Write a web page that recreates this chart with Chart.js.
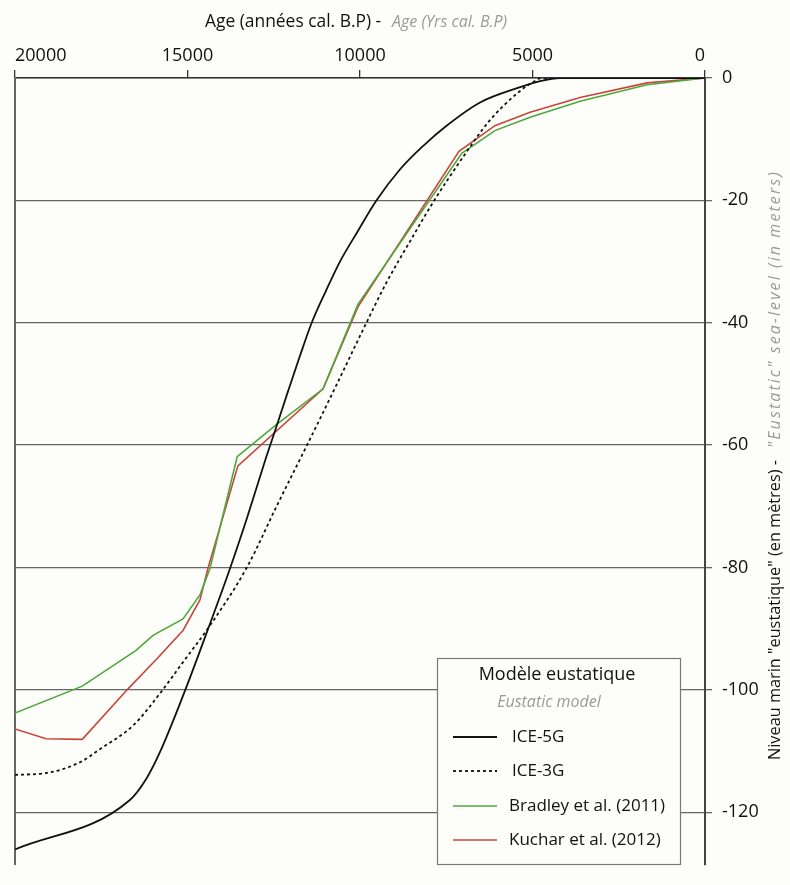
<!DOCTYPE html>
<html>
<head>
<meta charset="utf-8">
<script src="https://cdn.jsdelivr.net/npm/chart.js@4.4.1/dist/chart.umd.min.js"></script>
<style>
  html, body { margin: 0; padding: 0; background: #fdfdf9; }
  canvas { display: block; }
</style>
</head>
<body>
<canvas id="chart" width="790" height="885"></canvas>
<script>
// axes (ordre croissant : Chart.js aligne le premier/dernier label avec align 'inner')
const ageTicks = [0, 5000, 10000, 15000, 20000];
const levelTicks = [0, -20, -40, -60, -80, -100, -120];

// ICE-5G
const ice5gAge = [20000, 16670, 16180, 15800, 15070, 14440, 13770, 13280, 12720, 12400, 12080, 11740, 11400, 10980, 10580, 10060, 9520, 8850, 8150, 7490, 6520, 5360, 4780, 4200, 0];
const ice5gLevel = [-126.1, -118, -114.4, -110.2, -100.1, -90.6, -80.2, -72, -62, -56.6, -51.1, -45.4, -40, -34.7, -30, -25, -20, -15, -11, -7.8, -4, -1.5, -0.5, 0, 0];

// ICE-3G
const ice3gAge = [20000, 19100, 18100, 17540, 16570, 15800, 15120, 14350, 13280, 12400, 11500, 10650, 9900, 9230, 8550, 7880, 7000, 6250, 5400, 4900, 4750, 0];
const ice3gLevel = [-113.9, -113.6, -111.8, -109.7, -105.8, -100.6, -95.4, -89.5, -80, -69.8, -59.6, -49.8, -41, -33.4, -26.7, -20.3, -12.8, -7.0, -2.3, -0.4, 0, 0];

// Bradley et al. (2011)
const bradleyAge = [20000, 18050, 16500, 16000, 15130, 14640, 14350, 13560, 12460, 11070, 10060, 7050, 6090, 5070, 3620, 1680, 0];
const bradleyLevel = [-103.8, -99.4, -93.6, -91.1, -88.4, -84.5, -80.2, -61.9, -56.8, -50.8, -37.0, -12.3, -8.6, -6.4, -3.8, -1.1, 0];

// Kuchar et al. (2012)
const kucharAge = [20000, 19100, 18050, 16750, 15900, 15130, 14640, 14400, 13540, 11070, 10060, 7130, 6090, 5070, 3620, 1680, 0];
const kucharLevel = [-106.4, -108, -108.1, -100, -95, -90.3, -85.3, -80, -63.4, -50.8, -37.4, -12, -7.8, -5.6, -3.2, -0.8, 0];

const FONT = '"Open Sans", "Noto Sans", sans-serif';
const BG = '#fdfdf9';

const pts = (xs, ys) => xs.map((x, i) => ({ x: x, y: ys[i] }));

// taille de police pour qu'un texte occupe une longueur donnée
function fitFont(c, text, style, len) {
  c.font = style + '20px ' + FONT;
  const size = 20 * len / c.measureText(text).width;
  c.font = style + size.toFixed(1) + 'px ' + FONT;
}

const bgPlugin = {
  id: 'bg',
  beforeDraw(chart) {
    const c = chart.ctx;
    c.save();
    c.fillStyle = BG;
    c.fillRect(0, 0, chart.width, chart.height);
    c.restore();
  }
};

// titres bicolores + légende encadrée
const decoPlugin = {
  id: 'deco',
  afterDatasetsDraw(chart) {
    const c = chart.ctx;
    c.save();

    // titre du haut
    c.textBaseline = 'middle';
    c.textAlign = 'left';
    const t1 = 'Age (années cal. B.P) -';
    fitFont(c, t1, '', 176);
    c.fillStyle = '#111';
    c.fillText(t1, 205, 22);
    const t2 = 'Age (Yrs cal. B.P)';
    fitFont(c, t2, 'italic ', 115);
    c.fillStyle = '#9a9a9a';
    c.fillText(t2, 392, 22);

    // titre de droite (vertical)
    c.save();
    c.translate(775, 0);
    c.rotate(-Math.PI / 2);
    const r1 = 'Niveau marin "eustatique" (en mètres) -';
    fitFont(c, r1, '', 300);
    c.fillStyle = '#111';
    c.fillText(r1, -760, 0);
    // partie anglaise : petite italique, espacée pour garder la longueur
    const r2 = '"Eustatic" sea-level (in meters)';
    c.font = 'italic 16px ' + FONT;
    const rw2 = c.measureText(r2).width;
    if ('letterSpacing' in c) {
      c.letterSpacing = ((278 - rw2) / r2.length).toFixed(2) + 'px';
    }
    c.fillStyle = '#9a9a9a';
    c.fillText(r2, -448, 0);
    if ('letterSpacing' in c) c.letterSpacing = '0px';
    c.restore();

    // légende
    const bx = 437, by = 658, bw = 243, bh = 206;
    c.fillStyle = BG;
    c.fillRect(bx, by, bw, bh);
    c.strokeStyle = '#777';
    c.lineWidth = 1.2;
    c.strokeRect(bx + 0.5, by + 0.5, bw, bh);

    c.textAlign = 'center';
    c.font = '18px ' + FONT;
    c.fillStyle = '#111';
    c.fillText('Modèle eustatique', 557, 675);
    c.font = 'italic 16px ' + FONT;
    c.fillStyle = '#9a9a9a';
    c.fillText('Eustatic model', 549, 702);

    const rows = [737, 771, 806, 840];
    c.textAlign = 'left';
    chart.data.datasets.forEach((ds, i) => {
      const y = rows[i];
      c.beginPath();
      c.setLineDash(ds.borderDash || []);
      c.strokeStyle = ds.borderColor;
      c.lineWidth = ds.borderWidth;
      c.moveTo(453, y);
      c.lineTo(497, y);
      c.stroke();
      c.setLineDash([]);
      c.font = '17px ' + FONT;
      c.fillStyle = '#111';
      c.fillText(ds.label, i < 2 ? 512 : 509, y);
    });

    c.restore();
  }
};

new Chart(document.getElementById('chart'), {
  type: 'line',
  data: {
    datasets: [
      {
        label: 'ICE-5G',
        data: pts(ice5gAge, ice5gLevel),
        borderColor: '#111111',
        borderWidth: 1.8,
        pointRadius: 0,
        cubicInterpolationMode: 'monotone'
      },
      {
        label: 'ICE-3G',
        data: pts(ice3gAge, ice3gLevel),
        borderColor: '#111111',
        borderWidth: 1.8,
        borderDash: [3, 3],
        pointRadius: 0,
        cubicInterpolationMode: 'monotone'
      },
      {
        label: 'Bradley et al. (2011)',
        data: pts(bradleyAge, bradleyLevel),
        borderColor: '#4da83d',
        borderWidth: 1.6,
        pointRadius: 0,
        tension: 0
      },
      {
        label: 'Kuchar et al. (2012)',
        data: pts(kucharAge, kucharLevel),
        borderColor: '#c9453b',
        borderWidth: 1.6,
        pointRadius: 0,
        tension: 0
      }
    ]
  },
  options: {
    responsive: false,
    animation: false,
    layout: { padding: 0 },
    plugins: {
      legend: { display: false },
      tooltip: { enabled: false }
    },
    scales: {
      x: {
        type: 'linear',
        position: 'top',
        reverse: true,
        min: 0,
        max: 20000,
        afterBuildTicks: s => { s.ticks = ageTicks.map(v => ({ value: v })); },
        afterFit: s => { s.height = 78; },
        grid: { drawOnChartArea: false, drawTicks: true, tickLength: 8, color: '#333', lineWidth: 1.3 },
        border: { color: '#333', width: 1.5 },
        ticks: {
          font: { family: FONT, size: 18 },
          color: '#111',
          padding: 3,
          align: 'inner',
          maxRotation: 0,
          callback: v => String(v)
        }
      },
      y: {
        type: 'linear',
        position: 'right',
        min: -128.5,
        max: 0,
        afterBuildTicks: s => { s.ticks = levelTicks.map(v => ({ value: v })); },
        afterFit: s => { s.width = 85; },
        grid: { color: '#666', lineWidth: 1.3, drawTicks: true, tickLength: 7 },
        border: { color: '#444', width: 2 },
        ticks: {
          font: { family: FONT, size: 18 },
          color: '#111',
          padding: 10
        }
      },
      yLeft: {
        type: 'linear',
        position: 'left',
        min: -128.5,
        max: 0,
        afterFit: s => { s.width = 15; },
        grid: { drawOnChartArea: false, drawTicks: false },
        border: { color: '#666', width: 2 },
        ticks: { display: false }
      }
    }
  },
  plugins: [bgPlugin, decoPlugin]
});
</script>
</body>
</html>
